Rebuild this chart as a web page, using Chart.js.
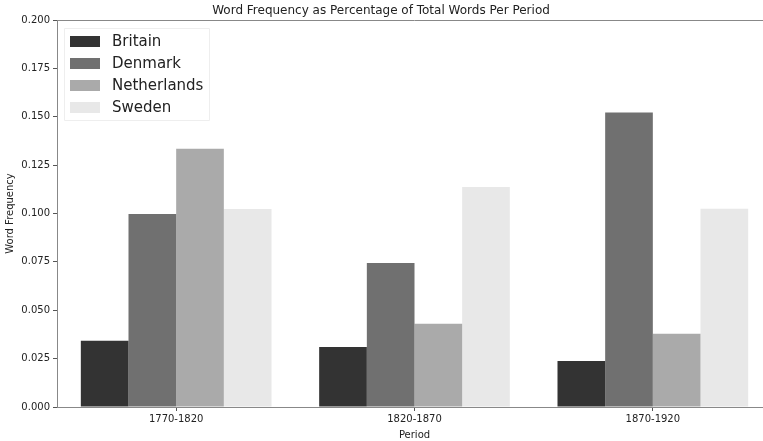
<!DOCTYPE html>
<html>
<head>
<meta charset="utf-8">
<script src="https://cdn.jsdelivr.net/npm/chart.js@4/dist/chart.umd.min.js"></script>
<style>
  html, body { margin: 0; padding: 0; background: #fff; overflow: hidden; }
  #wrap { width: 772px; height: 441px; }
</style>
</head>
<body>
<div id="wrap"><canvas id="chart" width="772" height="441"></canvas></div>
<script>
const periods = ['1770-1820', '1820-1870', '1870-1920'];
const britain = [0.0342, 0.0310, 0.0238];
const denmark = [0.0997, 0.0744, 0.1522];
const netherlands = [0.1335, 0.0430, 0.0378];
const sweden = [0.1023, 0.1137, 0.1025];
const yTicks = [0, 0.025, 0.05, 0.075, 0.1, 0.125, 0.15, 0.175, 0.2];

const countries = ['Britain', 'Denmark', 'Netherlands', 'Sweden'];
const colors = ['#333333', '#707070', '#aaaaaa', '#e8e8e8'];
const series = [britain, denmark, netherlands, sweden];

const font = 'DejaVu Sans';

// legend inside the plot, top-left, plus title and top frame line
const extras = {
  id: 'extras',
  afterDraw(chart) {
    const ctx = chart.ctx;
    const a = chart.chartArea;
    ctx.save();
    ctx.strokeStyle = '#888';
    ctx.lineWidth = 1;
    ctx.beginPath();
    ctx.moveTo(a.left, a.top + 0.5);
    ctx.lineTo(a.right, a.top + 0.5);
    ctx.stroke();

    ctx.fillStyle = '#222';
    ctx.font = '12px "' + font + '"';
    ctx.textAlign = 'center';
    ctx.textBaseline = 'middle';
    ctx.fillText('Word Frequency as Percentage of Total Words Per Period', 381, 11);

    // legend box
    const bx = a.left + 7, by = a.top + 8, bw = 145, bh = 92;
    ctx.fillStyle = 'rgba(255,255,255,0.8)';
    ctx.strokeStyle = '#eeeeee';
    ctx.beginPath();
    ctx.rect(bx + 0.5, by + 0.5, bw, bh);
    ctx.fill();
    ctx.stroke();
    ctx.font = '15px "' + font + '"';
    ctx.textAlign = 'left';
    chart.data.datasets.forEach((ds, i) => {
      const y = by + 13 + i * 22;
      ctx.fillStyle = ds.backgroundColor;
      ctx.fillRect(bx + 6, y - 5, 30, 11);
      ctx.fillStyle = '#222';
      ctx.fillText(ds.label, bx + 48, y + 1);
    });
    ctx.restore();
  }
};

new Chart(document.getElementById('chart'), {
  type: 'bar',
  data: {
    labels: periods,
    datasets: countries.map((c, i) => ({
      label: c,
      data: series[i],
      backgroundColor: colors[i],
      borderWidth: 0,
      barPercentage: 1.0,
      categoryPercentage: 0.8
    }))
  },
  options: {
    responsive: false,
    animation: false,
    layout: { padding: { top: 20, right: 0, bottom: 0, left: 4 } },
    plugins: {
      legend: { display: false },
      title: { display: false },
      tooltip: { enabled: false }
    },
    scales: {
      x: {
        grid: { display: true, offset: false, drawOnChartArea: false, tickLength: 4, color: '#555' },
        border: { display: true, color: '#888', width: 1 },
        ticks: { color: '#222', font: { family: font, size: 10 }, padding: 2 },
        title: { display: true, text: 'Period', color: '#222', font: { family: font, size: 10 }, padding: { top: 0, bottom: 0 } },
        afterFit(scale) { scale.height = 34; }
      },
      y: {
        min: 0,
        max: 0.2,
        afterBuildTicks(scale) { scale.ticks = yTicks.map(v => ({ value: v })); },
        grid: { display: true, drawOnChartArea: false, tickLength: 4, color: '#555' },
        border: { display: true, color: '#888', width: 1 },
        ticks: {
          color: '#222',
          font: { family: font, size: 10 },
          padding: 3,
          callback: v => v.toFixed(3)
        },
        title: { display: true, text: 'Word Frequency', color: '#222', font: { family: font, size: 10 }, padding: { top: 0, bottom: 0 } },
        afterFit(scale) { scale.width = 53; }
      }
    }
  },
  plugins: [extras]
});
</script>
</body>
</html>
